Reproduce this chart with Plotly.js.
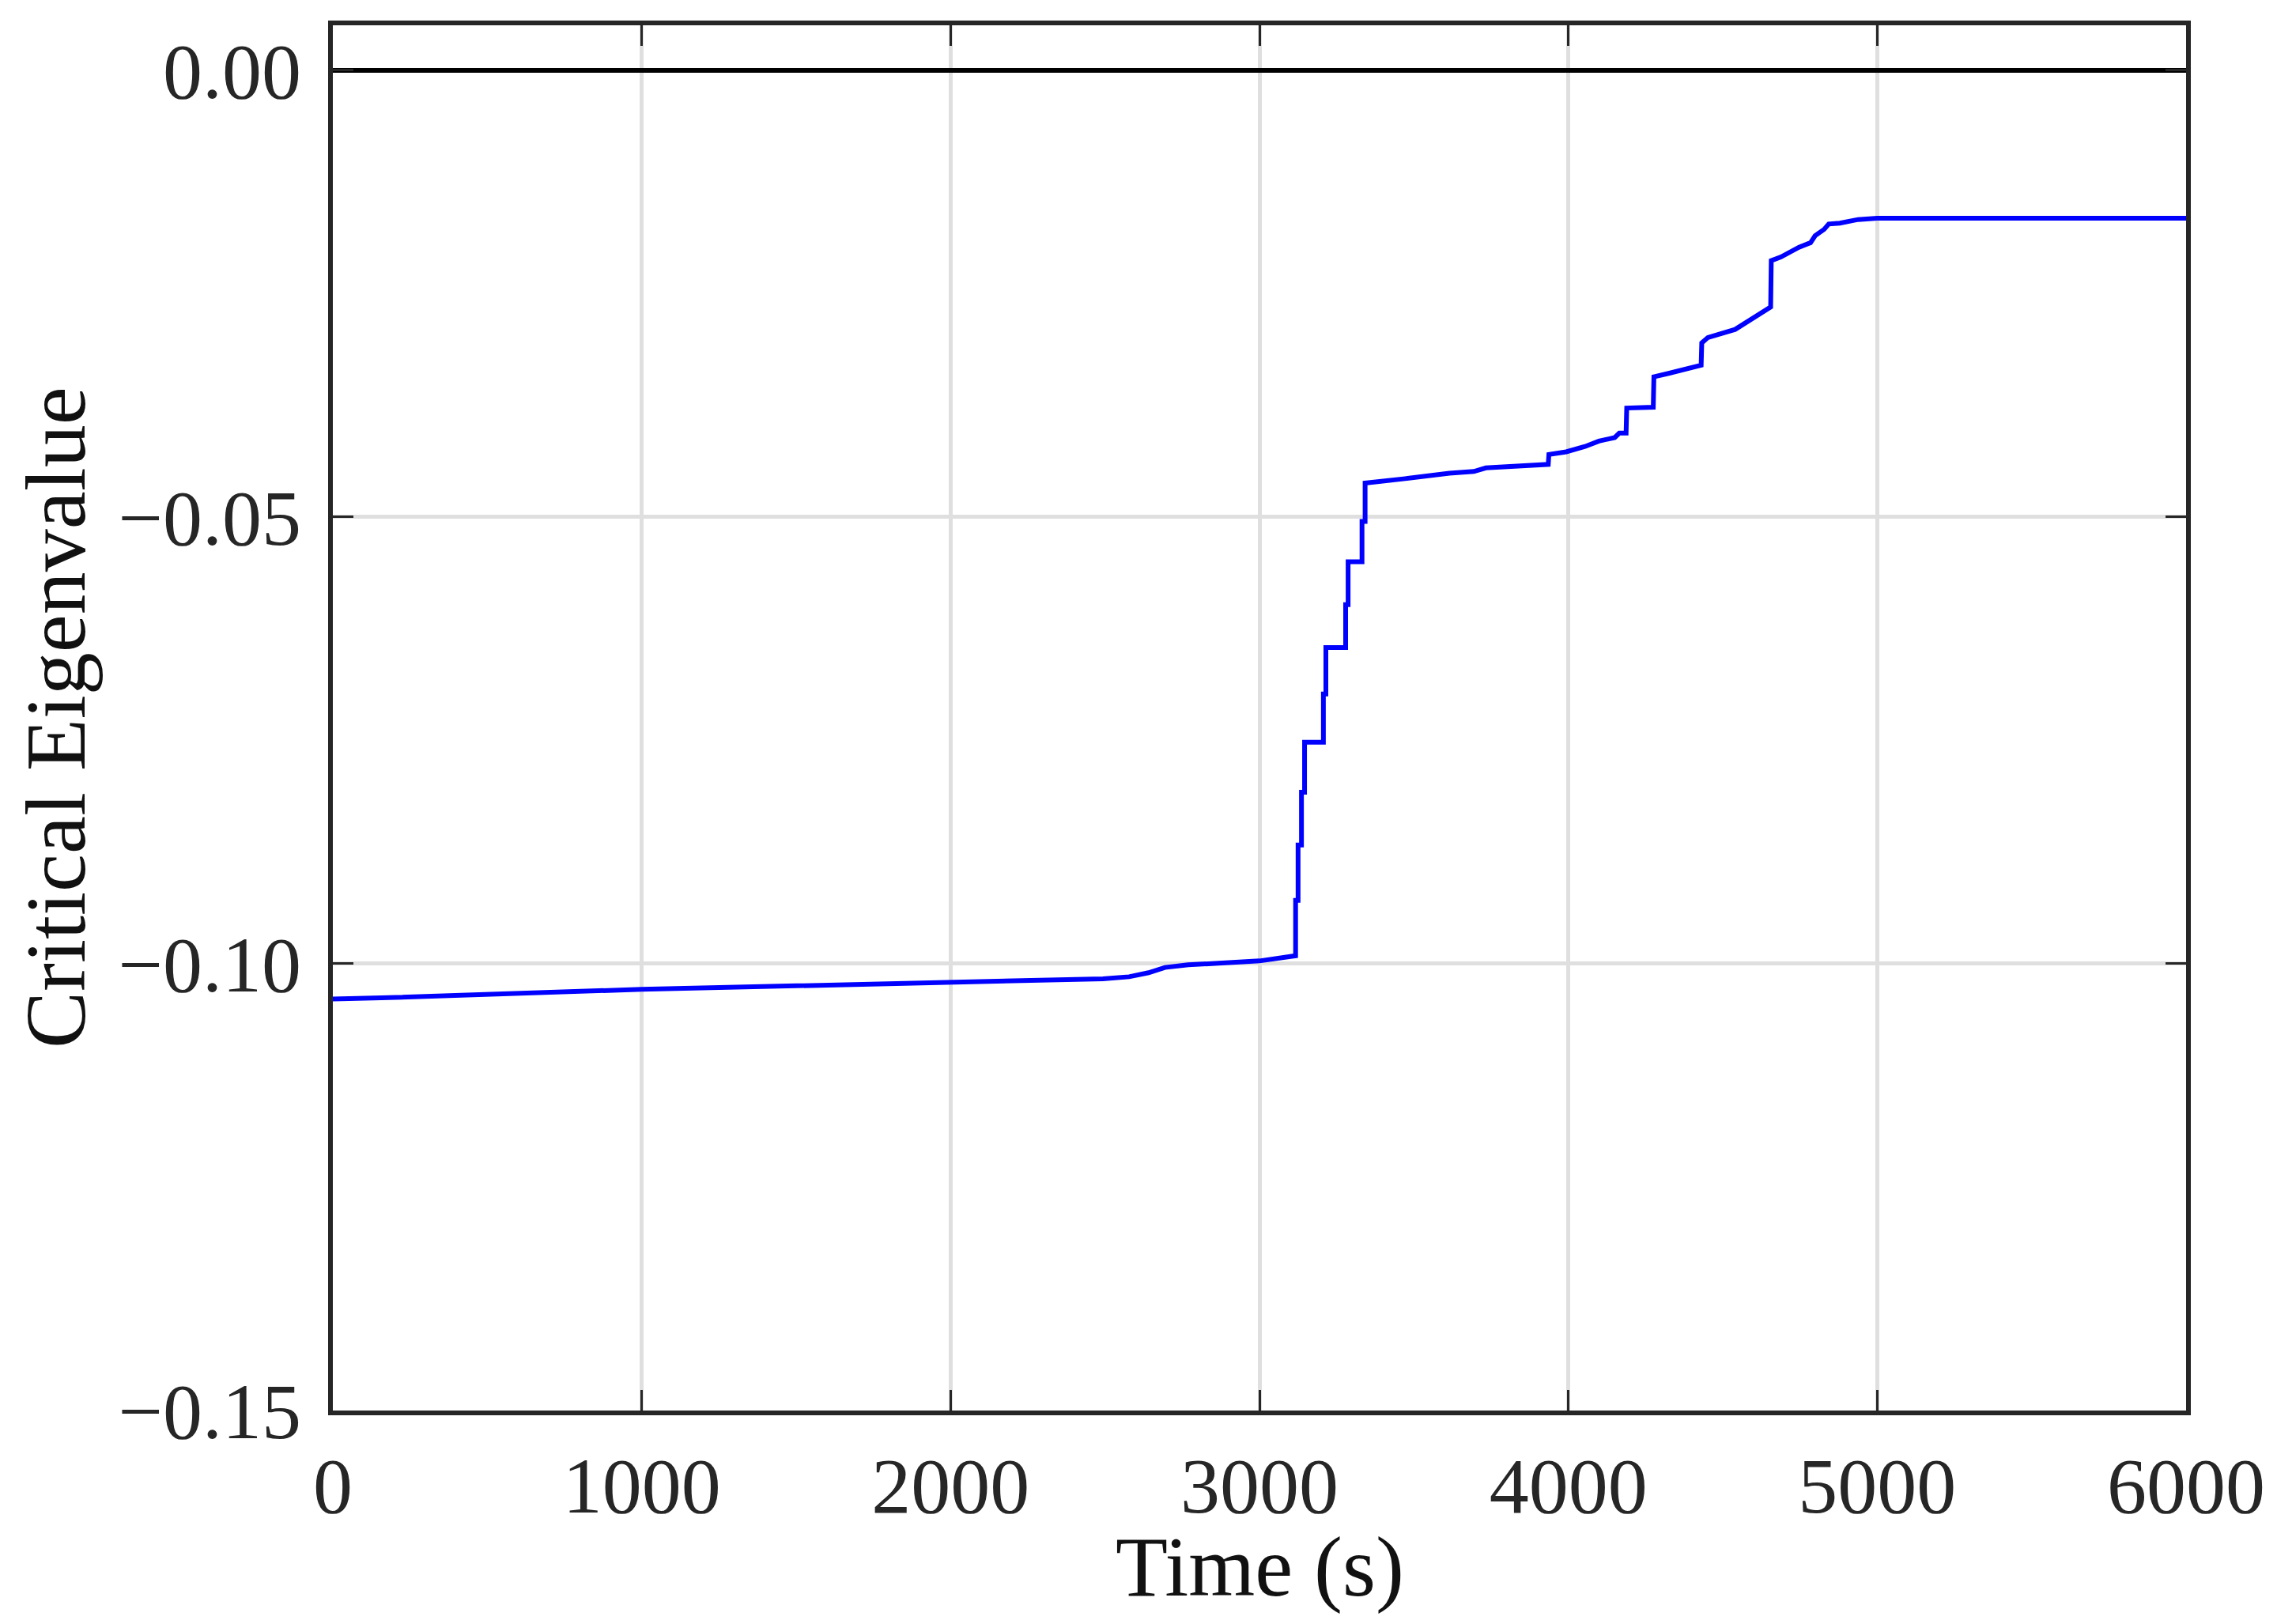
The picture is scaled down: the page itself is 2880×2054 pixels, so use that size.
<!DOCTYPE html>
<html>
<head>
<meta charset="utf-8">
<script src="https://cdn.plot.ly/plotly-3.0.1.min.js"></script>
<style>
  html, body { margin: 0; padding: 0; background: #fff; }
  #myDiv { width: 2880px; height: 2054px; }
</style>
</head>
<body>
<div id="myDiv"></div>
<script>
// critical eigenvalue over time
var time = [
	0, 157, 1000, 2000, 2493, 2578, 2641, 2694, 2769, 3000, 3066, 3112,
	3117, 3117, 3125, 3125, 3136, 3136, 3146, 3146, 3207, 3207, 3215, 3215,
	3279, 3279, 3287, 3287, 3332, 3332, 3342, 3342,
	3446, 3472, 3615, 3694, 3733, 3935, 3937, 3993, 4054, 4099, 4150, 4165,
	4187, 4189, 4275, 4277, 4327, 4430, 4432, 4452, 4540, 4585, 4629, 4655,
	4657, 4688, 4747, 4784, 4799, 4828, 4843, 4879, 4938, 5000, 6000
];
var eigenvalue = [
	-0.10395, -0.10381, -0.10286, -0.10209, -0.10168, -0.10145, -0.10100, -0.10041, -0.10012, -0.09968, -0.09938, -0.09914,
	-0.0991, -0.0929, -0.0929, -0.0867, -0.0867, -0.0808, -0.0808, -0.0752, -0.0752, -0.0698, -0.0698, -0.0646,
	-0.0646, -0.0598, -0.0598, -0.0550, -0.0550, -0.0505, -0.0505, -0.0462,
	-0.0459, -0.0457, -0.0451, -0.0449, -0.0445, -0.0441, -0.0430, -0.0427, -0.0421, -0.0415, -0.0411, -0.0406,
	-0.0406, -0.0378, -0.0377, -0.0343, -0.0339, -0.0330, -0.0305, -0.0299, -0.0290, -0.0280, -0.0271, -0.0265,
	-0.0213, -0.0209, -0.0198, -0.0193, -0.0185, -0.0178, -0.0172, -0.0171, -0.0167, -0.01655, -0.01655
];

var xTicks = [0, 1000, 2000, 3000, 4000, 5000, 6000];
var yTicks = [-0.15, -0.10, -0.05, 0.00];
var xLabel = 'Time (s)';
var yLabel = 'Critical Eigenvalue';

var axisColor = '#262626';
var serif = 'Liberation Serif, Times New Roman, serif';

var curve = {
	x: time,
	y: eigenvalue,
	type: 'scatter',
	mode: 'lines',
	line: {color: '#0000ff', width: 6},
	hoverinfo: 'skip'
};

// shared axis look, MATLAB style box with inward ticks
function axisStyle(extra) {
	var base = {
		ticks: 'inside',
		ticklen: 26,
		tickwidth: 3,
		tickcolor: axisColor,
		showline: true,
		linewidth: 6,
		linecolor: axisColor,
		mirror: 'ticks',
		showgrid: true,
		gridcolor: '#dfdfdf',
		gridwidth: 5,
		tickfont: {family: serif, size: 100, color: axisColor},
		automargin: false
	};
	for (var k in extra) base[k] = extra[k];
	return base;
}

var layout = {
	width: 2880,
	height: 2054,
	margin: {l: 421, r: 115, t: 32, b: 270, pad: 0},
	showlegend: false,
	plot_bgcolor: '#ffffff',
	paper_bgcolor: '#ffffff',
	font: {family: serif, color: axisColor, size: 100},
	xaxis: axisStyle({
		range: [0, 6000],
		tickvals: xTicks,
		ticktext: xTicks.map(String),
		ticklabelstandoff: 3,
		zeroline: false
	}),
	yaxis: axisStyle({
		range: [-0.15, 0.00504],
		tickvals: yTicks,
		ticktext: yTicks.map(function (v) { return (v < 0 ? '\u2212' : '') + Math.abs(v).toFixed(2); }),
		ticklabelstandoff: 14,
		zeroline: true,
		zerolinecolor: '#000000',
		zerolinewidth: 6
	}),
	annotations: [
		{
			text: xLabel, xref: 'paper', yref: 'paper', x: 0.5, y: 0,
			xanchor: 'center', yanchor: 'middle', yshift: -198, showarrow: false,
			font: {family: serif, size: 108, color: '#111111'}
		},
		{
			text: yLabel, xref: 'paper', yref: 'paper', x: 0, y: 0.5, textangle: -90,
			xanchor: 'center', yanchor: 'middle', xshift: -351, showarrow: false,
			font: {family: serif, size: 108, color: '#111111'}
		}
	]
};

Plotly.newPlot('myDiv', [curve], layout, {staticPlot: true});
</script>
</body>
</html>
